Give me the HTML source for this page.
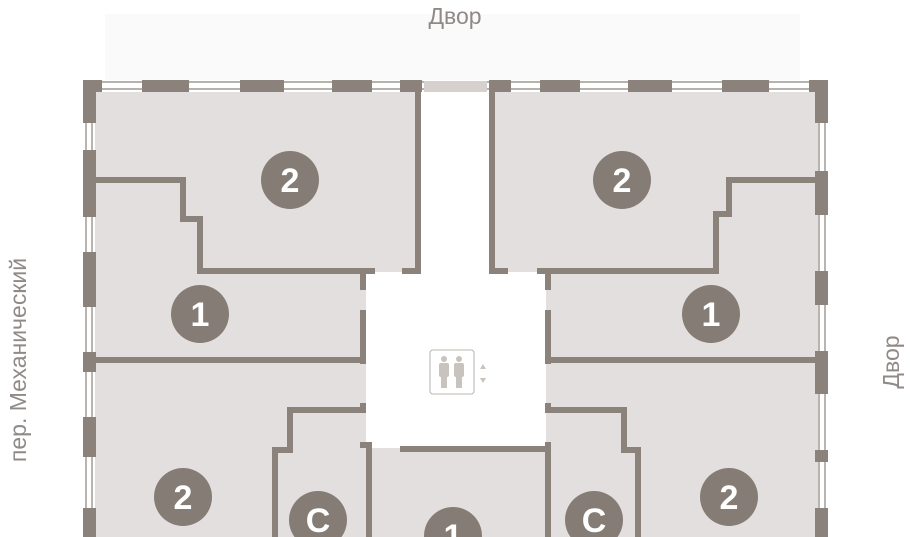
<!DOCTYPE html>
<html><head><meta charset="utf-8"><style>
html,body{margin:0;padding:0;background:#fff;width:910px;height:537px;overflow:hidden}
svg{display:block;overflow:hidden}
text{font-family:"Liberation Sans",sans-serif}
</style></head><body>
<svg width="910" height="537" viewBox="0 0 910 537" xmlns="http://www.w3.org/2000/svg">
<rect x="105" y="14" width="695" height="66" fill="#fafafa"/>
<rect x="95" y="92" width="723" height="445" fill="#e4dfdf"/>
<rect x="421" y="80" width="68" height="192" fill="#fff"/>
<rect x="366" y="272" width="180" height="176" fill="#fff"/>
<g stroke="#8b837b" stroke-width="1.2" fill="none">
<line x1="83" y1="82" x2="828" y2="82"/><line x1="83" y1="89" x2="828" y2="89"/>
<line x1="86" y1="80" x2="86" y2="537"/><line x1="92" y1="80" x2="92" y2="537"/>
<line x1="819" y1="80" x2="819" y2="537"/><line x1="825" y1="80" x2="825" y2="537"/>
</g>
<rect x="424" y="81" width="63" height="11" fill="#d6d1ce"/>
<g fill="#8b837b">
<rect x="83" y="80" width="19" height="12"/><rect x="142" y="80" width="47" height="12"/>
<rect x="240" y="80" width="44" height="12"/><rect x="332" y="80" width="40" height="12"/>
<rect x="400" y="80" width="22" height="12"/>
<rect x="489" y="80" width="22" height="12"/><rect x="540" y="80" width="40" height="12"/>
<rect x="628" y="80" width="44" height="12"/><rect x="722" y="80" width="47" height="12"/>
<rect x="809" y="80" width="19" height="12"/>
<rect x="83" y="80" width="13" height="43"/><rect x="83" y="150" width="13" height="67"/>
<rect x="83" y="252" width="13" height="55"/><rect x="83" y="352" width="13" height="20"/>
<rect x="83" y="417" width="13" height="40"/><rect x="83" y="508" width="13" height="29"/>
<rect x="815" y="80" width="13" height="43"/><rect x="815" y="171" width="13" height="44"/>
<rect x="815" y="271" width="13" height="34"/><rect x="815" y="351" width="13" height="43"/>
<rect x="815" y="450" width="13" height="12"/><rect x="815" y="508" width="13" height="29"/>
<rect x="415" y="92" width="6" height="182"/><rect x="489" y="92" width="6" height="182"/>
<rect x="402" y="268" width="19" height="6"/><rect x="489" y="268" width="19" height="6"/>
<rect x="360" y="268" width="15" height="6"/><rect x="537" y="268" width="15" height="6"/>
<rect x="360" y="268" width="6" height="22"/><rect x="360" y="310" width="6" height="54"/>
<rect x="545" y="268" width="6" height="22"/><rect x="545" y="310" width="6" height="54"/>
<rect x="360" y="403" width="6" height="10"/><rect x="545" y="403" width="6" height="10"/>
<rect x="360" y="442" width="12" height="6"/><rect x="400" y="446" width="151" height="6"/>
<rect x="366" y="442" width="6" height="95"/><rect x="545" y="442" width="6" height="95"/>
<rect x="95" y="357" width="271" height="6"/><rect x="545" y="357" width="273" height="6"/>
</g>
<g stroke="#8b837b" stroke-width="6" fill="none">
<polyline points="95,180 183,180 183,219 200,219 200,271 375,271"/>
<polyline points="818,180 729,180 729,214 716,214 716,271 537,271"/>
<polyline points="366,410 290,410 290,450 275,450 275,537"/>
<polyline points="545,410 624,410 624,450 638,450 638,537"/>
</g>
<g fill="none" stroke="#c9c3be" stroke-width="1.3">
<rect x="430" y="350" width="44" height="44" rx="3"/>
</g>
<g fill="#c9c3be">
<circle cx="444" cy="359" r="3"/><rect x="439" y="363" width="10" height="14" rx="2"/><rect x="441" y="376" width="6" height="12"/>
<circle cx="459" cy="359" r="3"/><rect x="454" y="363" width="10" height="14" rx="2"/><rect x="456" y="376" width="6" height="12"/>
<polygon points="480,369 486,369 483,364"/><polygon points="480,378 486,378 483,383"/>
</g>
<g fill="#857d75">
<circle cx="290" cy="180" r="29"/><circle cx="200" cy="314" r="29"/>
<circle cx="183" cy="497" r="29"/><circle cx="318" cy="520" r="29"/>
<circle cx="453" cy="536" r="29"/><circle cx="594" cy="520" r="29"/>
<circle cx="729" cy="497" r="29"/><circle cx="711" cy="314" r="29"/>
<circle cx="622" cy="180" r="29"/>
</g>
<g fill="#fff" font-weight="bold" font-size="34" text-anchor="middle">
<text x="290" y="192">2</text><text x="200" y="326">1</text>
<text x="183" y="509">2</text><text x="318" y="532">С</text>
<text x="453" y="548">1</text><text x="594" y="532">С</text>
<text x="729" y="509">2</text><text x="711" y="326">1</text>
<text x="622" y="192">2</text>
</g>
<g fill="#8f8a87" font-size="23">
<text x="455" y="24" text-anchor="middle">Двор</text>
<text transform="translate(899,362) rotate(-90)" text-anchor="middle">Двор</text>
<text transform="translate(26,360) rotate(-90)" text-anchor="middle">пер. Механический</text>
</g>
</svg>
</body></html>
